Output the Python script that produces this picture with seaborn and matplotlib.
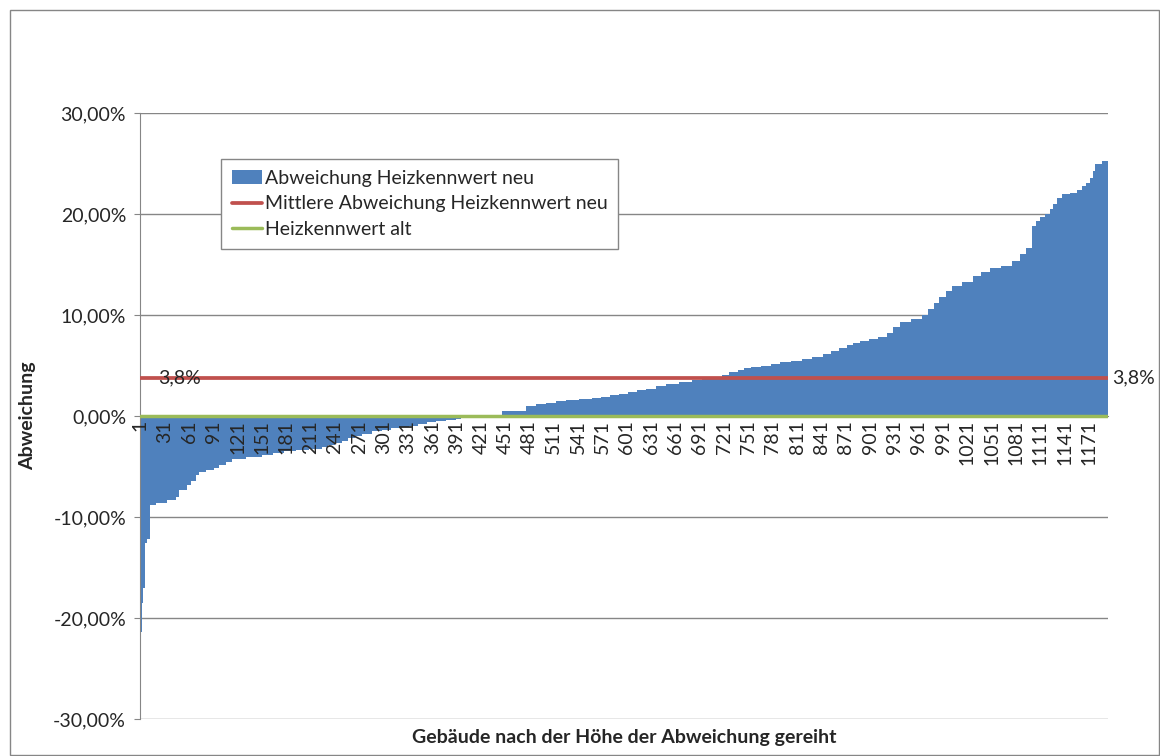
import numpy as np
import matplotlib
matplotlib.use("Agg")
from matplotlib import pyplot as plt, patches
from matplotlib.lines import Line2D
from matplotlib.ticker import FuncFormatter
import seaborn as sns

# Abweichung Heizkennwert neu (in %), nach Höhe sortiert.
stufen_wert = [-21.4, -18.5, -17.0, -12.6, -12.2, -8.8, -8.6, -8.3, -8.0, -7.3,
               -6.8, -6.4, -5.8, -5.5, -5.3, -5.1, -4.9, -4.6, -4.3, -4.1,
               -3.9, -3.7, -3.5, -3.4, -3.3, -3.1, -2.9, -2.7, -2.5, -2.2,
               -1.95, -1.75, -1.5, -1.35, -1.2, -1.08, -0.95, -0.8, -0.6, -0.5,
               -0.38, -0.28, -0.2, -0.05, 0.05,
               0.53, 1.0, 1.15, 1.3, 1.45, 1.55, 1.7, 1.8, 1.9, 2.05,
               2.2, 2.35, 2.55, 2.7, 2.95, 3.2, 3.4, 3.55, 3.7, 3.85,
               4.1, 4.35, 4.55, 4.75, 4.9, 5.0, 5.15, 5.3, 5.45, 5.6,
               5.85, 6.1, 6.4, 6.7, 7.0, 7.25, 7.45, 7.6, 7.8, 8.2,
               8.8, 9.3, 9.6, 10.0, 10.6, 11.2, 11.8, 12.4, 12.9, 13.3,
               13.9, 14.3, 14.7, 14.9, 15.3, 16.0, 16.6, 18.8, 19.3, 19.7,
               20.0, 20.5, 21.0, 21.6, 21.95, 22.1, 22.4, 22.8, 23.1, 23.6,
               24.3, 25.0, 25.2]
stufen_anzahl = [2, 2, 2, 3, 3, 8, 13, 11, 4, 10,
                 5, 6, 4, 9, 9, 7, 8, 7, 18, 19,
                 14, 14, 14, 16, 16, 8, 8, 9, 8, 8,
                 9, 12, 13, 11, 11, 11, 11, 11, 11, 12,
                 13, 6, 6, 22, 22,
                 30, 12, 13, 12, 13, 16, 16, 11, 11, 11,
                 11, 11, 11, 12, 13, 16, 16, 12, 12, 13,
                 9, 10, 8, 9, 12, 12, 11, 14, 14, 12,
                 13, 10, 10, 10, 8, 8, 11, 11, 11, 8,
                 8, 14, 14, 7, 7, 7, 8, 8, 12, 13,
                 10, 11, 14, 14, 9, 8, 7, 5, 5, 6,
                 6, 4, 5, 6, 10, 9, 6, 5, 5, 3,
                 3, 8, 8]
mittlere_abweichung = 3.8
heizkennwert_alt = 0.0
y_ticks = [-30, -20, -10, 0, 10, 20, 30]

abweichung = np.repeat(stufen_wert, stufen_anzahl)
gebaeude = np.arange(1, len(abweichung) + 1)

BLAU = "#4F81BD"
ROT = "#C0504D"
GRUEN = "#9BBB59"
GRAU = "#868686"

sns.set_style("white")
plt.rcParams["font.family"] = ["Lato", "DejaVu Sans"]

fig = plt.figure(figsize=(11.6, 7.56), dpi=100)
ax = fig.add_axes([140 / 1160, 1 - 719 / 756, 968 / 1160, 606 / 756])

sns.barplot(x=gebaeude, y=abweichung, native_scale=True, width=1.0,
            color=BLAU, saturation=1, errorbar=None, linewidth=0,
            antialiased=False, ax=ax, zorder=1)

# Gitterlinien hinter den Balken, Achsenbeschriftung davor
for yt in y_ticks:
    ax.axhline(yt, color=GRAU, lw=1, zorder=0.5)
ax.axhline(mittlere_abweichung, color=ROT, lw=2.7, zorder=3)
ax.axhline(heizkennwert_alt, color=GRUEN, lw=2.5, zorder=4)

ax.set_xlim(0.5, len(abweichung) + 0.5)
ax.set_ylim(-30, 30)
ax.set_yticks(y_ticks)
ax.yaxis.set_major_formatter(
    FuncFormatter(lambda v, _: f"{v:.2f}".replace(".", ",") + "%"))
ax.set_xticks(gebaeude[::30])
ax.set_xticklabels([str(g) for g in gebaeude[::30]])
ax.set_xlabel("")
ax.set_ylabel("")

ax.grid(False)
ax.set_axisbelow(False)
for s in ["top", "right"]:
    ax.spines[s].set_visible(False)
ax.spines["left"].set_color(GRAU)
ax.spines["bottom"].set_color(GRAU)
ax.spines["bottom"].set_position(("data", 0))
ax.tick_params(axis="y", left=True, length=4, color=GRAU, labelsize=14,
               pad=6)
ax.tick_params(axis="x", bottom=False, length=0, labelsize=14, pad=3,
               labelrotation=90)
for t in ax.get_xticklabels():
    t.set_rotation(90)
    t.set_va("top")
    t.set_ha("center")

label = f"{mittlere_abweichung:.1f}".replace(".", ",") + "%"
ax.text(18 / 968, mittlere_abweichung, label, transform=ax.get_yaxis_transform(),
        fontsize=14, va="center", ha="left", zorder=5)
ax.text(1.004, mittlere_abweichung, label, transform=ax.get_yaxis_transform(),
        fontsize=14, va="center", ha="left", clip_on=False)

handles = [patches.Patch(facecolor=BLAU, edgecolor="none"),
           Line2D([], [], color=ROT, lw=2.7),
           Line2D([], [], color=GRUEN, lw=2.5)]
labels = ["Abweichung Heizkennwert neu",
          "Mittlere Abweichung Heizkennwert neu",
          "Heizkennwert alt"]
leg = ax.legend(handles, labels, loc="upper left",
                bbox_to_anchor=(81 / 968, (719 - 159) / 606),
                borderaxespad=0, fontsize=14, frameon=True, fancybox=False,
                handlelength=1.55, handletextpad=0.15, labelspacing=0.45,
                borderpad=0.55)
leg.get_frame().set_edgecolor(GRAU)
leg.get_frame().set_linewidth(1)
leg.get_frame().set_alpha(1)
leg.set_zorder(6)

fig.text(28 / 1160, 1 - 416 / 756, "Abweichung", rotation=90, fontsize=14,
         fontweight="bold", ha="center", va="center")
fig.text(624 / 1160, 1 - 737 / 756, "Gebäude nach der Höhe der Abweichung gereiht",
         fontsize=14, fontweight="bold", ha="center", va="center")

fig.patches.append(patches.Rectangle((10 / 1160, 1 / 756), 1149 / 1160, 745 / 756,
                                     transform=fig.transFigure, fill=False,
                                     edgecolor=GRAU, lw=1))

fig.savefig("out.png", dpi=100)
